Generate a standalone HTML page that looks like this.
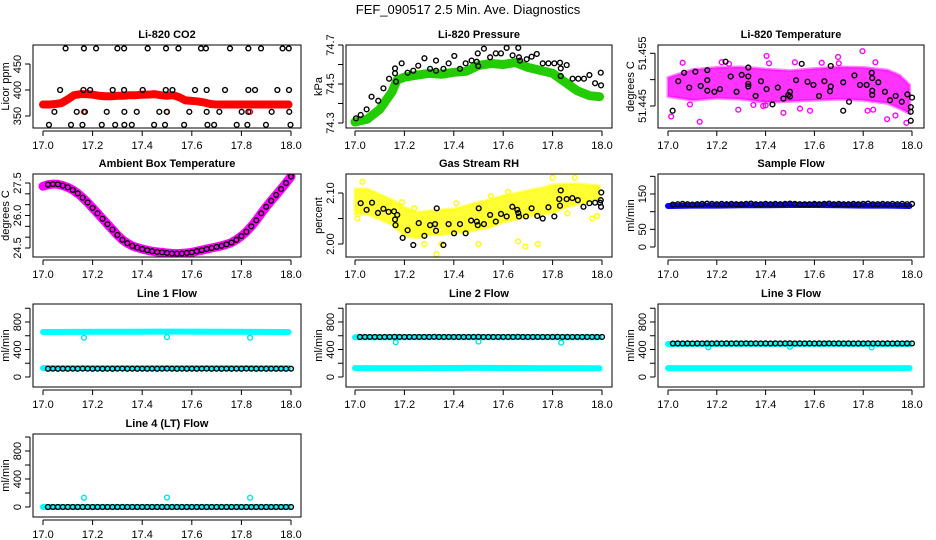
<!DOCTYPE html>
<html><head><meta charset="utf-8"><style>
html,body{margin:0;padding:0;background:#fff;}
svg{display:block;font-family:"Liberation Sans",sans-serif;}
</style></head><body>
<svg id="chart" width="936" height="540" viewBox="0 0 936 540" xmlns="http://www.w3.org/2000/svg">
<rect width="936" height="540" fill="#fff"/>
<text x="468" y="14" font-size="13" text-anchor="middle">FEF_090517  2.5 Min. Ave. Diagnostics</text>
</svg>
<script>
// ---------- data ----------
const xTicks = [17.0, 17.2, 17.4, 17.6, 17.8, 18.0];
const xTickLabels = ["17.0", "17.2", "17.4", "17.6", "17.8", "18.0"];

// CO2
const co2RedT = [17.0,17.025,17.05,17.075,17.1,17.125,17.15,17.175,17.2,17.225,17.25,17.275,17.3,17.325,17.35,17.375,17.4,17.425,17.45,17.475,17.5,17.525,17.55,17.575,17.6,17.625,17.65,17.675,17.7,17.75,17.8,17.85,17.9,17.95,17.99];
const co2RedV = [372,372,373,375,382,390,392,392,391,389,388,388,389,389,390,390,391,391,392,390,389,390,386,380,379,378,376,373,372,372,372,372,372,372,372];
const co2RedOutT = [17.165,17.5,17.835];
const co2RedOutV = [358,358,358];
const co2BlackT = [17.091,17.165,17.214,17.30,17.327,17.422,17.496,17.546,17.637,17.657,17.754,17.828,17.879,17.966,17.991,
 17.069,17.163,17.190,17.281,17.327,17.402,17.495,17.522,17.613,17.660,17.734,17.828,17.855,17.945,17.992,
 17.046,17.136,17.169,17.257,17.328,17.378,17.469,17.499,17.590,17.660,17.711,17.801,17.828,17.922,17.993,
 17.024,17.113,17.159,17.237,17.291,17.328,17.358,17.448,17.492,17.569,17.663,17.690,17.781,17.824,17.899,17.998];
const co2BlackV = [480,480,480,480,480,480,480,480,480,480,480,480,480,480,480,
 400,400,400,400,400,400,400,400,400,400,400,400,400,400,400,
 358,358,358,358,358,358,358,358,358,358,358,358,358,358,358,
 333,333,333,333,333,333,333,333,333,333,333,333,333,333,333,333];

// Pressure
const presGreenT = [17.0,17.05,17.1,17.15,17.17,17.2,17.25,17.3,17.35,17.4,17.45,17.5,17.55,17.6,17.65,17.7,17.75,17.8,17.85,17.9,17.95,17.99];
const presGreenV = [74.305,74.32,74.37,74.46,74.52,74.535,74.545,74.555,74.55,74.56,74.565,74.595,74.605,74.60,74.61,74.585,74.57,74.555,74.51,74.465,74.44,74.435];
const presBlackT = [17.004,17.023,17.047,17.067,17.094,17.115,17.138,17.162,17.162,17.166,17.189,17.213,17.236,17.256,17.281,17.304,17.328,17.328,17.358,17.379,17.402,17.425,17.448,17.472,17.493,17.497,17.499,17.522,17.547,17.570,17.591,17.614,17.638,17.661,17.664,17.668,17.695,17.715,17.736,17.760,17.783,17.807,17.830,17.833,17.833,17.857,17.881,17.904,17.927,17.949,17.972,17.995,17.996];
const presBlackV = [74.324,74.341,74.370,74.435,74.414,74.478,74.527,74.555,74.580,74.512,74.606,74.558,74.568,74.594,74.632,74.578,74.620,74.568,74.578,74.606,74.644,74.578,74.606,74.620,74.614,74.657,74.592,74.681,74.637,74.657,74.657,74.685,74.647,74.685,74.637,74.620,74.627,74.640,74.654,74.606,74.606,74.606,74.609,74.580,74.541,74.597,74.527,74.527,74.527,74.546,74.504,74.558,74.493];

// Li-820 temperature
const tempBandT = [17.0,17.1,17.2,17.3,17.4,17.5,17.6,17.7,17.8,17.9,17.95,17.99];
const tempBandUpper = [51.4504,51.4519,51.4523,51.4524,51.4520,51.4517,51.4521,51.4524,51.4523,51.4518,51.4508,51.4490];
const tempBandLower = [51.4468,51.4461,51.4465,51.4463,51.4457,51.4459,51.4461,51.4463,51.4461,51.4455,51.4445,51.4436];
const tempMagT = [17.013,17.130,17.404,17.414,17.288,17.541,17.582,17.473,17.697,17.797,17.818,17.841,17.898,17.932,17.977,17.40,17.39,17.06,17.22,17.25,17.63,17.70,17.52,17.09,17.85,17.35];
const tempMagV = [51.4430,51.4420,51.4545,51.4531,51.4443,51.4445,51.4441,51.4437,51.4543,51.4554,51.4441,51.4443,51.4425,51.4432,51.4418,51.4451,51.4450,51.4532,51.4533,51.4530,51.4532,51.4531,51.4533,51.4453,51.4533,51.4452];
const tempBlackT = [17.019,17.042,17.066,17.087,17.112,17.134,17.161,17.161,17.161,17.190,17.213,17.236,17.257,17.281,17.302,17.329,17.329,17.329,17.329,17.359,17.381,17.404,17.428,17.450,17.473,17.493,17.500,17.500,17.525,17.548,17.572,17.596,17.619,17.641,17.664,17.667,17.667,17.718,17.718,17.742,17.764,17.787,17.814,17.835,17.837,17.837,17.837,17.862,17.889,17.910,17.933,17.958,17.981,18.0,17.995,17.995,17.995];
const tempBlackV = [51.4441,51.4497,51.4513,51.4485,51.4515,51.4488,51.4518,51.4499,51.4479,51.4477,51.4482,51.4534,51.4506,51.4477,51.4509,51.4523,51.4506,51.4492,51.4487,51.4469,51.4497,51.4482,51.4453,51.4485,51.4464,51.4471,51.4477,51.4468,51.4499,51.4530,51.4496,51.4490,51.4469,51.4497,51.4478,51.4487,51.4526,51.4441,51.4495,51.4458,51.4508,51.4490,51.4490,51.4513,51.4503,51.4479,51.4471,51.4495,51.4477,51.4461,51.4469,51.4458,51.4472,51.4466,51.4448,51.4439,51.4422];

// Ambient box temperature
const ambT = [17.00,17.02,17.04,17.06,17.08,17.10,17.12,17.14,17.16,17.18,17.20,17.22,17.24,17.26,17.28,17.30,17.32,17.34,17.36,17.38,17.40,17.42,17.44,17.46,17.48,17.50,17.52,17.54,17.56,17.58,17.60,17.62,17.64,17.66,17.68,17.70,17.72,17.74,17.76,17.78,17.80,17.82,17.84,17.86,17.88,17.90,17.92,17.94,17.96,17.98,18.00];
const ambV = [27.35,27.42,27.45,27.44,27.38,27.30,27.18,27.02,26.82,26.60,26.35,26.10,25.85,25.60,25.35,25.10,24.88,24.72,24.60,24.52,24.45,24.40,24.35,24.32,24.30,24.27,24.25,24.24,24.25,24.27,24.30,24.35,24.40,24.45,24.50,24.55,24.60,24.67,24.75,24.88,25.05,25.25,25.50,25.78,26.10,26.40,26.68,26.95,27.22,27.50,27.80];

// Gas stream RH
const rhBandT = [17.0,17.05,17.1,17.15,17.2,17.25,17.3,17.35,17.4,17.45,17.5,17.55,17.6,17.65,17.7,17.75,17.8,17.85,17.9,17.95,17.99];
const rhBandUpper = [2.108,2.108,2.097,2.087,2.072,2.062,2.065,2.067,2.069,2.075,2.082,2.087,2.095,2.099,2.105,2.109,2.116,2.118,2.118,2.116,2.114];
const rhBandLower = [2.058,2.058,2.048,2.038,2.016,2.012,2.018,2.018,2.021,2.023,2.028,2.033,2.043,2.048,2.053,2.058,2.061,2.071,2.078,2.083,2.088];
const rhYelT = [17.33,17.50,17.66,17.69,17.74,17.35,17.01,17.96,17.98,17.80,17.89,17.03,17.19,17.28,17.62,17.86,17.24,17.41,17.55];
const rhYelV = [1.980,2.000,2.005,1.995,2.000,2.000,2.050,2.050,2.055,2.130,2.130,2.122,2.082,2.000,2.102,2.060,2.070,2.080,2.094];
const rhBlackT = [17.023,17.047,17.069,17.093,17.115,17.136,17.158,17.162,17.164,17.171,17.193,17.213,17.236,17.258,17.281,17.304,17.324,17.328,17.331,17.358,17.379,17.401,17.425,17.448,17.470,17.493,17.497,17.501,17.522,17.547,17.570,17.591,17.614,17.637,17.657,17.661,17.664,17.692,17.715,17.738,17.760,17.783,17.807,17.827,17.830,17.833,17.857,17.880,17.902,17.925,17.949,17.972,17.992,17.995,17.996,17.997];
const rhBlackV = [2.080,2.067,2.081,2.061,2.069,2.063,2.064,2.048,2.037,2.057,2.012,2.027,1.998,2.041,2.016,2.037,2.039,2.026,2.070,1.998,2.039,2.021,2.039,2.021,2.046,2.044,2.037,2.070,2.039,2.057,2.044,2.059,2.054,2.073,2.067,2.061,2.054,2.054,2.070,2.055,2.050,2.072,2.054,2.088,2.075,2.105,2.088,2.090,2.086,2.073,2.080,2.081,2.081,2.086,2.073,2.101];

// Flow panels: sampled black circles every 0.02 from 17.02
const flowT = [17.02,17.04,17.06,17.08,17.10,17.12,17.14,17.16,17.18,17.20,17.22,17.24,17.26,17.28,17.30,17.32,17.34,17.36,17.38,17.40,17.42,17.44,17.46,17.48,17.50,17.52,17.54,17.56,17.58,17.60,17.62,17.64,17.66,17.68,17.70,17.72,17.74,17.76,17.78,17.80,17.82,17.84,17.86,17.88,17.90,17.92,17.94,17.96,17.98,18.00];
const sampleBlackV = [120,121,122,121,120,121,122,123,122,121,122,121,122,121,121,122,123,121,121,122,121,122,121,122,123,122,121,121,121,122,121,122,123,121,122,121,121,122,121,122,123,121,121,122,121,122,121,122,121,122];
const sampleBlueT = [17.0,17.1,17.2,17.3,17.4,17.5,17.6,17.7,17.8,17.9,17.99];
const sampleBlueV = [116,117,117,118,118,119,119,118,117,117,116];

const line1BlackV = [120,121,120,121,120,121,120,122,121,120,121,120,121,120,121,122,120,121,120,121,120,121,120,121,122,121,120,121,120,121,120,121,122,120,121,120,121,120,121,120,122,121,120,121,120,121,120,121,120,121];
const line2BlackV = [582,582,583,582,581,582,583,584,582,582,583,582,582,582,582,584,582,582,583,582,582,582,582,583,584,582,582,582,583,582,582,582,584,582,582,582,583,582,582,582,584,582,582,582,583,582,582,582,582,582];
const line3BlackV = [488,489,488,489,488,489,488,490,488,489,488,489,488,489,488,490,488,489,488,489,488,489,488,489,490,488,489,488,489,488,489,488,490,488,489,488,489,488,489,488,490,488,489,488,489,488,489,488,489,488];
const line4BlackV = [0,0,0,0,0,0,0,0,0,0,0,0,0,0,0,0,0,0,0,0,0,0,0,0,0,0,0,0,0,0,0,0,0,0,0,0,0,0,0,0,0,0,0,0,0,0,0,0,0,0];
const bandT = [17.0,17.25,17.5,17.75,17.99];
const line1UpperV = [655,658,660,658,655];
const line1LowerV = [130,130,130,130,130];
const line2UpperV = [578,580,580,580,578];
const line2LowerV = [130,130,132,130,128];
const line3UpperV = [480,482,482,482,480];
const line3LowerV = [130,130,130,130,130];
const line4UpperV = [0,0,0,0,0];
const outT = [17.165,17.5,17.835];
const line1OutV = [572,580,572];
const line2OutV = [505,515,500];
const line3OutV = [432,440,430];
const line4OutV = [132,135,132];

// ---------- drawing ----------
const NS = "http://www.w3.org/2000/svg";
const svg = document.getElementById("chart");
const cols = [{bx0:33,bx1:301,x17:43,x18:291},{bx0:346,bx1:612,x17:355,x18:602},{bx0:658,bx1:924,x17:668,x18:912}];
const rows = [{by0:45,by1:128},{by0:174,by1:257},{by0:304,by1:387},{by0:434,by1:517}];

function mk(tag, attrs, parent){
  const e = document.createElementNS(NS, tag);
  for (const k in attrs) e.setAttribute(k, attrs[k]);
  (parent||svg).appendChild(e);
  return e;
}

function panel(name, title, ylab, col, row, v1, y1, v2, y2, ticks, labels){
  const c = cols[col], r = rows[row];
  const g = mk("g", {});
  
  
  const xs = t => c.x17 + (t - 17) * (c.x18 - c.x17);
  const ys = v => y1 + (v - v1) * (y2 - y1) / (v2 - v1);
  const clip = mk("clipPath", {id: "clip-" + name}, g);
  mk("rect", {x:c.bx0, y:r.by0, width:c.bx1-c.bx0, height:r.by1-r.by0}, clip);
  const plot = mk("g", {"clip-path": "url(#clip-" + name + ")"}, g);
  
  
  const box = mk("rect", {x:c.bx0, y:r.by0, width:c.bx1-c.bx0, height:r.by1-r.by0, fill:"none", stroke:"#000", "stroke-width":1}, g);
  
  
  const tt = mk("text", {x:(c.bx0+c.bx1)/2, y:r.by0-7, "font-size":11, "font-weight":"bold", "text-anchor":"middle"}, g);
  tt.textContent = title;
  
  
  const xa = mk("g", {}, g);
  
  
  mk("line", {x1:xs(xTicks[0]), x2:xs(xTicks[xTicks.length-1]), y1:r.by1+3, y2:r.by1+3, stroke:"#000"}, xa);
  xTicks.forEach((t,i) => {
    mk("line", {x1:xs(t), x2:xs(t), y1:r.by1+3, y2:r.by1+8, stroke:"#000"}, xa);
    const lt = mk("text", {x:xs(t), y:r.by1+21, "font-size":11, "text-anchor":"middle"}, xa);
    lt.textContent = xTickLabels[i];
    
    
  });
  const ya = mk("g", {}, g);
  
  
  const ax = c.bx0 - 3;
  mk("line", {x1:ax, x2:ax, y1:ys(ticks[0]), y2:ys(ticks[ticks.length-1]), stroke:"#000"}, ya);
  ticks.forEach((t,i) => {
    mk("line", {x1:ax-5, x2:ax, y1:ys(t), y2:ys(t), stroke:"#000"}, ya);
    if (labels[i]) {
      const lx = c.bx0 - 12, ly = ys(t);
      const lt = mk("text", {x:lx, y:ly, "font-size":11, "text-anchor":"middle", transform:"rotate(-90 "+lx+" "+ly+")"}, ya);
      lt.textContent = labels[i];
      
      
    }
  });
  const yx = c.bx0 - 24, yy = (r.by0 + r.by1)/2;
  const yl = mk("text", {x:yx, y:yy, "font-size":11, "text-anchor":"middle", transform:"rotate(-90 "+yx+" "+yy+")"}, g);
  yl.textContent = ylab;
  
  
  return {plot, xs, ys};
}

function pts(p, T, V, color, nm){
  T.forEach((t,i) => {
    const e = mk("circle", {cx:p.xs(t), cy:p.ys(V[i]), r:2.4, fill:"none", stroke:color, "stroke-width":1.4}, p.plot);
    
    
  });
}
function band(p, T, V, color, w, nm){
  const e = mk("polyline", {points: T.map((t,i)=>p.xs(t)+","+p.ys(V[i])).join(" "), fill:"none", stroke:color, "stroke-width":w, "stroke-linejoin":"round", "stroke-linecap":"round"}, p.plot);
  
  
}
function area(p, T, U, L, color, nm){
  const a = T.map((t,i)=>p.xs(t)+","+p.ys(U[i]));
  const b = T.map((t,i)=>p.xs(t)+","+p.ys(L[i])).reverse();
  const e = mk("polygon", {points: a.concat(b).join(" "), fill:color, "fill-opacity":0.8, stroke:color, "stroke-opacity":0.5, "stroke-width":3, "stroke-linejoin":"round"}, p.plot);
  
  
}

let p = panel("co2", "Li-820 CO2", "Licor ppm", 0, 0, 400, 90, 350, 116, [350,400,450], ["350","400","450"]);
band(p, co2RedT, co2RedV, "#ff0000", 8, "co2-red-series");
pts(p, co2RedOutT, co2RedOutV, "#ff0000", "co2-red-point");
pts(p, co2BlackT, co2BlackV, "#000", "co2-black-point");

p = panel("pressure", "Li-820 Pressure", "kPa", 1, 0, 74.7, 45, 74.3, 123, [74.3,74.4,74.5,74.6,74.7], ["74.3","","74.5","","74.7"]);
band(p, presGreenT, presGreenV, "#22cc00", 9, "pressure-green-series");
pts(p, presBlackT, presBlackV, "#000", "pressure-black-point");

p = panel("temperature", "Li-820 Temperature", "degrees C", 2, 0, 51.455, 53.3, 51.445, 106, [51.445,51.450,51.455], ["51.445","","51.455"]);
area(p, tempBandT, tempBandUpper, tempBandLower, "#ff00ff", "temperature-magenta-cloud");
pts(p, tempMagT, tempMagV, "#ff00ff", "temperature-magenta-point");
pts(p, tempBlackT, tempBlackV, "#000", "temperature-black-point");

p = panel("ambient", "Ambient Box Temperature", "degrees C", 0, 1, 27.5, 183, 24.5, 248, [24.5,25,25.5,26,26.5,27,27.5], ["24.5","","","26.0","","","27.5"]);
band(p, ambT, ambV, "#ff00ff", 9, "ambient-magenta-series");
pts(p, ambT.slice(1), ambV.slice(1), "#000", "ambient-black-point");

p = panel("rh", "Gas Stream RH", "percent", 1, 1, 2.10, 193, 2.00, 244, [2.00,2.05,2.10], ["2.00","","2.10"]);
area(p, rhBandT, rhBandUpper, rhBandLower, "#ffff00", "rh-yellow-cloud");
pts(p, rhYelT, rhYelV, "#ffff00", "rh-yellow-point");
pts(p, rhBlackT, rhBlackV, "#000", "rh-black-point");

p = panel("sample-flow", "Sample Flow", "ml/min", 2, 1, 150, 194, 0, 247, [0,50,100,150,200], ["0","50","","150",""]);
band(p, sampleBlueT, sampleBlueV, "#0000ff", 6, "sample-blue-series");
pts(p, flowT, sampleBlackV, "#000", "sample-black-point");

const flowTicks = [0,200,400,600,800,1000], flowLabels = ["0","","400","","800",""];
p = panel("line1", "Line 1 Flow", "ml/min", 0, 2, 800, 322, 0, 377, flowTicks, flowLabels);
band(p, bandT, line1UpperV, "#00ffff", 6, "line1-cyan-upper");
band(p, bandT, line1LowerV, "#00ffff", 6, "line1-cyan-lower");
pts(p, outT, line1OutV, "#00e5e5", "line1-cyan-point");
pts(p, flowT, line1BlackV, "#000", "line1-black-point");

p = panel("line2", "Line 2 Flow", "ml/min", 1, 2, 800, 322, 0, 377, flowTicks, flowLabels);
band(p, bandT, line2UpperV, "#00ffff", 6, "line2-cyan-upper");
band(p, bandT, line2LowerV, "#00ffff", 6, "line2-cyan-lower");
pts(p, outT, line2OutV, "#00e5e5", "line2-cyan-point");
pts(p, flowT, line2BlackV, "#000", "line2-black-point");

p = panel("line3", "Line 3 Flow", "ml/min", 2, 2, 800, 322, 0, 377, flowTicks, flowLabels);
band(p, bandT, line3UpperV, "#00ffff", 6, "line3-cyan-upper");
band(p, bandT, line3LowerV, "#00ffff", 6, "line3-cyan-lower");
pts(p, outT, line3OutV, "#00e5e5", "line3-cyan-point");
pts(p, flowT, line3BlackV, "#000", "line3-black-point");

p = panel("line4", "Line 4 (LT) Flow", "ml/min", 0, 3, 800, 451, 0, 507, flowTicks, flowLabels);
band(p, bandT, line4UpperV, "#00ffff", 6, "line4-cyan-series");
pts(p, outT, line4OutV, "#00e5e5", "line4-cyan-point");
pts(p, flowT, line4BlackV, "#000", "line4-black-point");
</script>
</body></html>
